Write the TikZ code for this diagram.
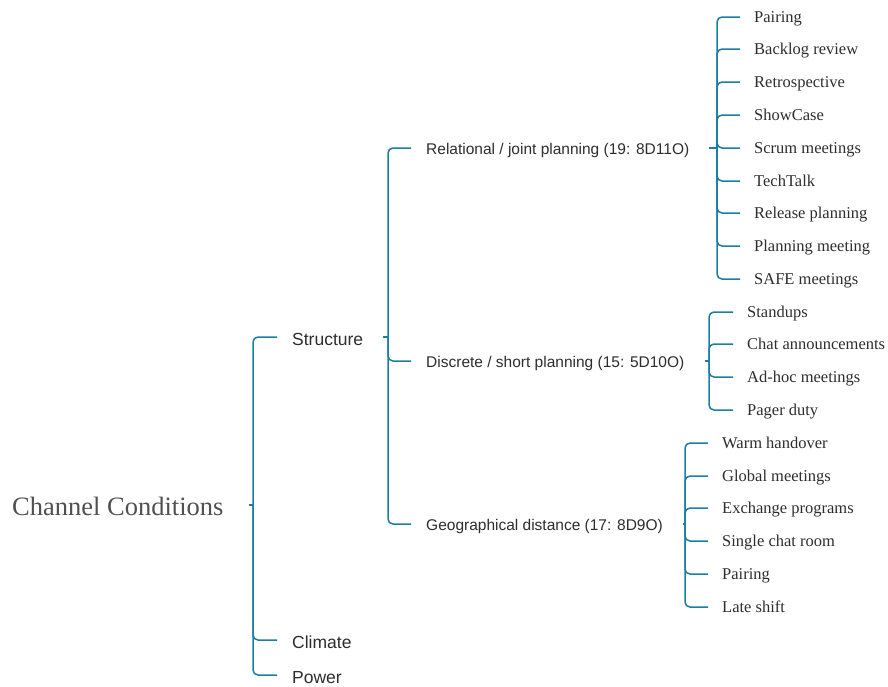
\documentclass[tikz,border=0pt]{standalone}
\usepackage{fontspec}
\setmainfont{Liberation Serif}
\setsansfont{Liberation Sans}
\definecolor{linkcol}{RGB}{28,127,160}
\definecolor{txtcol}{RGB}{45,45,45}
\definecolor{rootcol}{RGB}{80,80,80}
\begin{document}
\begin{tikzpicture}[x=1pt,y=-1pt,
  link/.style={draw=linkcol, line width=1.5pt, rounded corners=5pt},
  rootlbl/.style={anchor=west, inner xsep=0pt, inner ysep=0pt, text height=20pt, text depth=0pt,
    font=\fontsize{26.5}{30}\selectfont, text=rootcol},
  toplbl/.style={anchor=west, inner xsep=15pt, inner ysep=0pt, text height=17pt, text depth=0pt,
    font=\sffamily\fontsize{17.5}{20}\selectfont, text=txtcol},
  midlbl/.style={anchor=west, inner xsep=15pt, inner ysep=0pt, text height=13.4pt, text depth=0pt,
    font=\sffamily\fontsize{15.5}{18}\selectfont, text=txtcol},
  leaf/.style={anchor=west, inner xsep=14pt, inner ysep=0pt, text height=11.6pt, text depth=0pt,
    font=\fontsize{16.5}{19}\selectfont, text=txtcol}
]
\useasboundingbox (0,0) rectangle (888,686);

% root
\node[rootlbl] (root) at (12,505) {Channel Conditions};

% first level
\node[toplbl] (st) at (277,337) {Structure};
\node[toplbl] (cl) at (277,640) {Climate};
\node[toplbl] (pw) at (277,675) {Power};

% second level
\node[midlbl] (rel) at (411,148) {Relational / joint planning (19: 8D11O)};
\node[midlbl] (dis) at (411,361) {Discrete / short planning (15: 5D10O)};
\node[midlbl] (geo) at (411,524) {Geographical distance (17: 8D9O)};

% leaves of relational planning
\node[leaf] (r1) at (740,17)  {Pairing};
\node[leaf] (r2) at (740,49)  {Backlog review};
\node[leaf] (r3) at (740,82)  {Retrospective};
\node[leaf] (r4) at (740,115) {ShowCase};
\node[leaf] (r5) at (740,148) {Scrum meetings};
\node[leaf] (r6) at (740,181) {TechTalk};
\node[leaf] (r7) at (740,213) {Release planning};
\node[leaf] (r8) at (740,246) {Planning meeting};
\node[leaf] (r9) at (740,279) {SAFE meetings};

% leaves of discrete planning
\node[leaf] (d1) at (733,312) {Standups};
\node[leaf] (d2) at (733,344) {Chat announcements};
\node[leaf] (d3) at (733,377) {Ad-hoc meetings};
\node[leaf] (d4) at (733,410) {Pager duty};

% leaves of geographical distance
\node[leaf] (g1) at (708,443) {Warm handover};
\node[leaf] (g2) at (708,476) {Global meetings};
\node[leaf] (g3) at (708,508) {Exchange programs};
\node[leaf] (g4) at (708,541) {Single chat room};
\node[leaf] (g5) at (708,574) {Pairing};
\node[leaf] (g6) at (708,607) {Late shift};

% spine positions of the brackets
\coordinate (vroot) at (253,0);
\coordinate (vst) at (388,0);
\coordinate (vrel) at (717,0);
\coordinate (vdis) at (709,0);
\coordinate (vgeo) at (685,0);

% root bracket
\draw[link] ([xshift=25pt]root.east) -- (vroot |- root.east);
\foreach \c in {st,cl,pw} \draw[link] (vroot |- root.east) |- (\c.west);

% structure bracket
\draw[link] ([xshift=5pt]st.east) -- (vst |- st.east);
\foreach \c in {rel,dis,geo} \draw[link] (vst |- st.east) |- (\c.west);

% relational bracket
\draw[link] ([xshift=5pt]rel.east) -- (vrel |- rel.east);
\foreach \c in {r1,r2,r3,r4,r5,r6,r7,r8,r9} \draw[link] (vrel |- rel.east) |- (\c.west);

% discrete bracket
\draw[link] ([xshift=5pt]dis.east) -- (vdis |- dis.east);
\foreach \c in {d1,d2,d3,d4} \draw[link] (vdis |- dis.east) |- (\c.west);

% geographical bracket
\draw[link] ([xshift=5pt]geo.east) -- (vgeo |- geo.east);
\foreach \c in {g1,g2,g3,g4,g5,g6} \draw[link] (vgeo |- geo.east) |- (\c.west);
\end{tikzpicture}
\end{document}
